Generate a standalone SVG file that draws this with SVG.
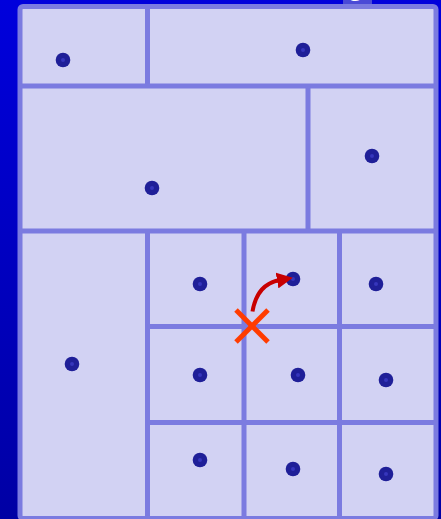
<svg xmlns="http://www.w3.org/2000/svg" width="441" height="519" viewBox="0 0 441 519">
<defs>
<linearGradient id="bg" x1="0" y1="0" x2="0" y2="1">
<stop offset="0" stop-color="#0000dc"/>
<stop offset="1" stop-color="#0000a4"/>
</linearGradient>
<marker id="ah" markerWidth="16" markerHeight="16" refX="3" refY="8" orient="auto" markerUnits="userSpaceOnUse">
<path d="M0,0 L16,8 L0,16 Z" fill="#c80000"/>
</marker>
<style>
.ln{stroke:#7b7be0;stroke-width:5;fill:none}
.panel{fill:#d2d2f3;stroke:#7b7be0;stroke-width:5}
.dot{fill:#1f1f98}
.dc{fill:#3636bc}
.x{stroke:#ff3c00;stroke-width:5;stroke-linecap:butt}
</style>
</defs>
<rect x="0" y="0" width="441" height="519" fill="url(#bg)"/>
<rect x="343" y="0" width="29" height="5" fill="#4a4ad6"/>
<text x="355.5" y="-5" font-family="Liberation Sans, sans-serif" font-size="28" font-weight="bold" fill="#ffffff" text-anchor="middle">g</text>
<g id="grid">
<rect class="panel" x="20" y="6.5" width="416" height="512" rx="3"/>
<line class="ln" x1="20" y1="86" x2="436" y2="86"/>
<line class="ln" x1="147.5" y1="6.5" x2="147.5" y2="86"/>
<line class="ln" x1="308" y1="86" x2="308" y2="231"/>
<line class="ln" x1="20" y1="231" x2="436" y2="231"/>
<line class="ln" x1="147.5" y1="231" x2="147.5" y2="518"/>
<line class="ln" x1="244" y1="231" x2="244" y2="518"/>
<line class="ln" x1="339.5" y1="231" x2="339.5" y2="518"/>
<line class="ln" x1="147.5" y1="326.5" x2="436" y2="326.5"/>
<line class="ln" x1="147.5" y1="422.5" x2="436" y2="422.5"/>
</g>
<g id="points">
<g id="p1"><circle class="dot" cx="63" cy="60" r="7.3"/><circle class="dc" cx="63" cy="60" r="2"/></g>
<g id="p2"><circle class="dot" cx="303" cy="50" r="7.3"/><circle class="dc" cx="303" cy="50" r="2"/></g>
<g id="p3"><circle class="dot" cx="152" cy="188" r="7.3"/><circle class="dc" cx="152" cy="188" r="2"/></g>
<g id="p4"><circle class="dot" cx="372" cy="156" r="7.3"/><circle class="dc" cx="372" cy="156" r="2"/></g>
<g id="p5"><circle class="dot" cx="72" cy="364" r="7.3"/><circle class="dc" cx="72" cy="364" r="2"/></g>
<g id="p6"><circle class="dot" cx="200" cy="284" r="7.3"/><circle class="dc" cx="200" cy="284" r="2"/></g>
<g id="p7"><circle class="dot" cx="293" cy="279" r="7.3"/><circle class="dc" cx="293" cy="279" r="2"/></g>
<g id="p8"><circle class="dot" cx="376" cy="284" r="7.3"/><circle class="dc" cx="376" cy="284" r="2"/></g>
<g id="p9"><circle class="dot" cx="200" cy="375" r="7.3"/><circle class="dc" cx="200" cy="375" r="2"/></g>
<g id="p10"><circle class="dot" cx="298" cy="375" r="7.3"/><circle class="dc" cx="298" cy="375" r="2"/></g>
<g id="p11"><circle class="dot" cx="386" cy="380" r="7.3"/><circle class="dc" cx="386" cy="380" r="2"/></g>
<g id="p12"><circle class="dot" cx="200" cy="460" r="7.3"/><circle class="dc" cx="200" cy="460" r="2"/></g>
<g id="p13"><circle class="dot" cx="293" cy="469" r="7.3"/><circle class="dc" cx="293" cy="469" r="2"/></g>
<g id="p14"><circle class="dot" cx="386" cy="474" r="7.3"/><circle class="dc" cx="386" cy="474" r="2"/></g>
</g>
<g id="query">
<line class="x" x1="236" y1="310" x2="268" y2="342"/>
<line class="x" x1="236" y1="342" x2="268" y2="310"/>
</g>
<g id="connectors">
<path d="M252.5,311.5 Q257,284 280,280" fill="none" stroke="#c80000" stroke-width="4" marker-end="url(#ah)"/>
</g>
</svg>
